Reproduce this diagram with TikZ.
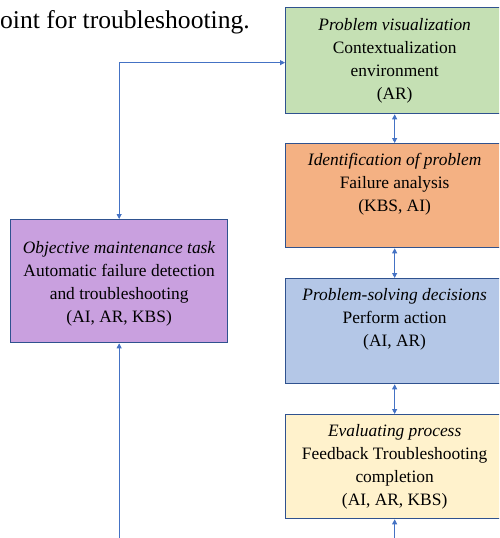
\documentclass[tikz,border=0pt]{standalone}
\usepackage{fontspec}
\setmainfont{Liberation Serif}
\usetikzlibrary{arrows.meta,positioning}

\definecolor{visgreen}{HTML}{C5E0B4}
\definecolor{identorange}{HTML}{F4B183}
\definecolor{actblue}{HTML}{B4C7E7}
\definecolor{evalyellow}{HTML}{FFF2CC}
\definecolor{taskpurple}{HTML}{C9A0DF}
\definecolor{boxedge}{HTML}{2F528F}
\definecolor{flowblue}{HTML}{4472C4}

\begin{document}
\begin{tikzpicture}[x=1pt, y=-1pt,
    stagebox/.style={draw=boxedge, line width=1.3pt, inner sep=0pt,
        minimum width=218pt, minimum height=105pt, anchor=north west},
    stagetext/.style={anchor=north, align=center, inner sep=0pt,
        font=\fontsize{17.4}{23}\selectfont, yshift=-10.5pt},
    flow/.style={draw=flowblue, line width=0.8pt,
        >={Triangle[length=5pt, width=5pt]}}]

% Page size and clipping
\useasboundingbox (0,0) rectangle (499,538);
\clip (0,0) rectangle (499,538);

% Stage column (right)
\def\stageX{285}

% Leftover line of the page text
\node[anchor=base west, inner sep=0pt, font=\fontsize{25.6}{30}\selectfont]
    (lead) at (-12.8,28) {point for troubleshooting.};

% Stage boxes
\node[stagebox, fill=visgreen, minimum height=106pt] (vis) at (\stageX,7) {};
\node[stagebox, fill=identorange, minimum height=104pt] (ident) at (\stageX,143) {};
\node[stagebox, fill=actblue] (act) at (\stageX,278) {};
\node[stagebox, fill=evalyellow, minimum height=104pt] (eval) at (\stageX,414) {};

% Stage texts
\node[stagetext, yshift=-1pt] (vis text) at (vis.north)
    {\textit{Problem visualization}\\Contextualization\\environment\\(AR)};
\node[stagetext] (ident text) at (ident.north)
    {\textit{Identification of problem}\\Failure analysis\\(KBS, AI)};
\node[stagetext] (act text) at (act.north)
    {\textit{Problem-solving decisions}\\Perform action\\(AI, AR)};
\node[stagetext] (eval text) at (eval.north)
    {\textit{Evaluating process}\\Feedback Troubleshooting\\completion\\(AI, AR, KBS)};

% Objective box (left)
\node[stagebox, fill=taskpurple, minimum width=217pt, minimum height=123pt]
    (task) at (10,219) {};
\node[stagetext, yshift=-11.5pt] (task text) at (task.north)
    {\textit{Objective maintenance task}\\Automatic failure detection\\and troubleshooting\\(AI, AR, KBS)};

% Links between stages
\draw[flow, <->] (vis.south) -- (ident.north);
\draw[flow, <->] (ident.south) -- (act.north);
\draw[flow, <->] (act.south) -- (eval.north);

% Incoming lines from below
\coordinate (eval foot) at (eval.south |- 0,545);
\coordinate (task foot) at (task.south |- 0,545);
\draw[flow, ->] (eval foot) -- (eval.south);
\draw[flow, ->] (task foot) -- (task.south);

% Loop from the task to the first stage
\draw[flow, <->] (task.north) |- ([yshift=-2pt]vis.west);

\end{tikzpicture}
\end{document}
